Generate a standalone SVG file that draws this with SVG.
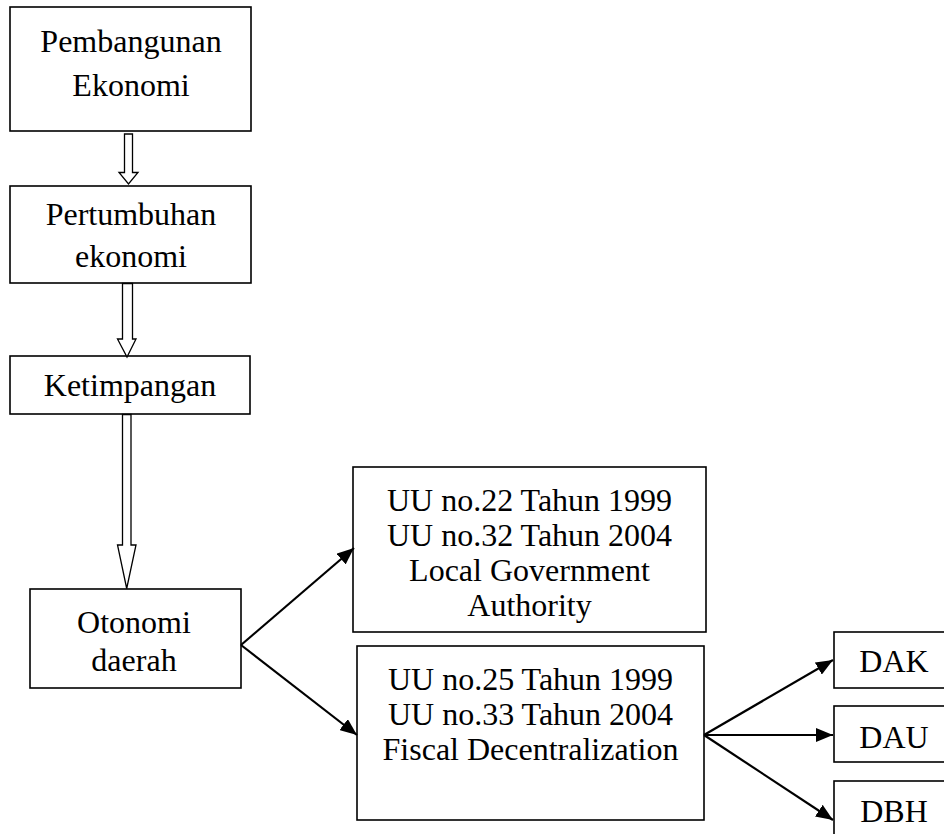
<svg xmlns="http://www.w3.org/2000/svg" width="944" height="834" viewBox="0 0 944 834">
<style>
  .box { fill: #fff; stroke: #000; stroke-width: 1.6; }
  .t { font-family: "Liberation Serif", "Times New Roman", serif; font-size: 32px; fill: #000; text-anchor: middle; }
  .blk { fill: #fff; stroke: #000; stroke-width: 1.3; stroke-linejoin: miter; }
  .ln { stroke: #000; stroke-width: 2.2; fill: none; }
</style>
<defs>
  <marker id="ah" markerUnits="userSpaceOnUse" markerWidth="18" markerHeight="14" refX="17" refY="7" orient="auto">
    <path d="M0,0 L17,7 L0,14 Z" fill="#000"/>
  </marker>
</defs>
<rect width="944" height="834" fill="#fff"/>

<g id="n-pembangunan">
  <rect class="box" x="10" y="7" width="241" height="124"/>
  <text class="t" x="131" y="52">Pembangunan</text>
  <text class="t" x="131" y="96">Ekonomi</text>
</g>
<g id="n-pertumbuhan">
  <rect class="box" x="10" y="186" width="241" height="97"/>
  <text class="t" x="131" y="225">Pertumbuhan</text>
  <text class="t" x="131" y="267">ekonomi</text>
</g>
<g id="n-ketimpangan">
  <rect class="box" x="10" y="356" width="240" height="58"/>
  <text class="t" x="130" y="396">Ketimpangan</text>
</g>
<g id="n-otonomi">
  <rect class="box" x="30" y="589" width="211" height="99"/>
  <text class="t" x="134" y="633">Otonomi</text>
  <text class="t" x="134" y="671">daerah</text>
</g>
<g id="n-uu-local">
  <rect class="box" x="353" y="467" width="353" height="165"/>
  <text class="t" x="529.5" y="511">UU no.22 Tahun 1999</text>
  <text class="t" x="529.5" y="546">UU no.32 Tahun 2004</text>
  <text class="t" x="529.5" y="581">Local Government</text>
  <text class="t" x="529.5" y="616">Authority</text>
</g>
<g id="n-uu-fiscal">
  <rect class="box" x="357" y="646" width="347" height="174"/>
  <text class="t" x="530.5" y="690">UU no.25 Tahun 1999</text>
  <text class="t" x="530.5" y="725">UU no.33 Tahun 2004</text>
  <text class="t" x="530.5" y="760">Fiscal Decentralization</text>
</g>
<g id="n-dak">
  <rect class="box" x="834" y="632" width="121" height="56"/>
  <text class="t" x="894" y="672">DAK</text>
</g>
<g id="n-dau">
  <rect class="box" x="834" y="706" width="121" height="56"/>
  <text class="t" x="894" y="748">DAU</text>
</g>
<g id="n-dbh">
  <rect class="box" x="834" y="781" width="121" height="70"/>
  <text class="t" x="894" y="822">DBH</text>
</g>

<g id="connectors">
  <path class="blk" d="M124.5,134 L132.5,134 L132.5,172.5 L138,172.5 L128.5,184 L119,172.5 L124.5,172.5 Z"/>
  <path class="blk" d="M122.5,283.5 L132.5,283.5 L132.5,339 L136,339 L127,357 L117.5,339 L122.5,339 Z"/>
  <path class="blk" d="M122.5,414.5 L131,414.5 L131,545 L136,545 L126.7,588.5 L117.5,545 L122.5,545 Z"/>
  <line class="ln" x1="241" y1="645" x2="354" y2="548" marker-end="url(#ah)"/>
  <line class="ln" x1="241" y1="645" x2="357" y2="735" marker-end="url(#ah)"/>
  <line class="ln" x1="704" y1="735" x2="833" y2="660" marker-end="url(#ah)"/>
  <line class="ln" x1="704" y1="735" x2="833" y2="735" marker-end="url(#ah)"/>
  <line class="ln" x1="704" y1="735" x2="833" y2="820" marker-end="url(#ah)"/>
</g>
</svg>
